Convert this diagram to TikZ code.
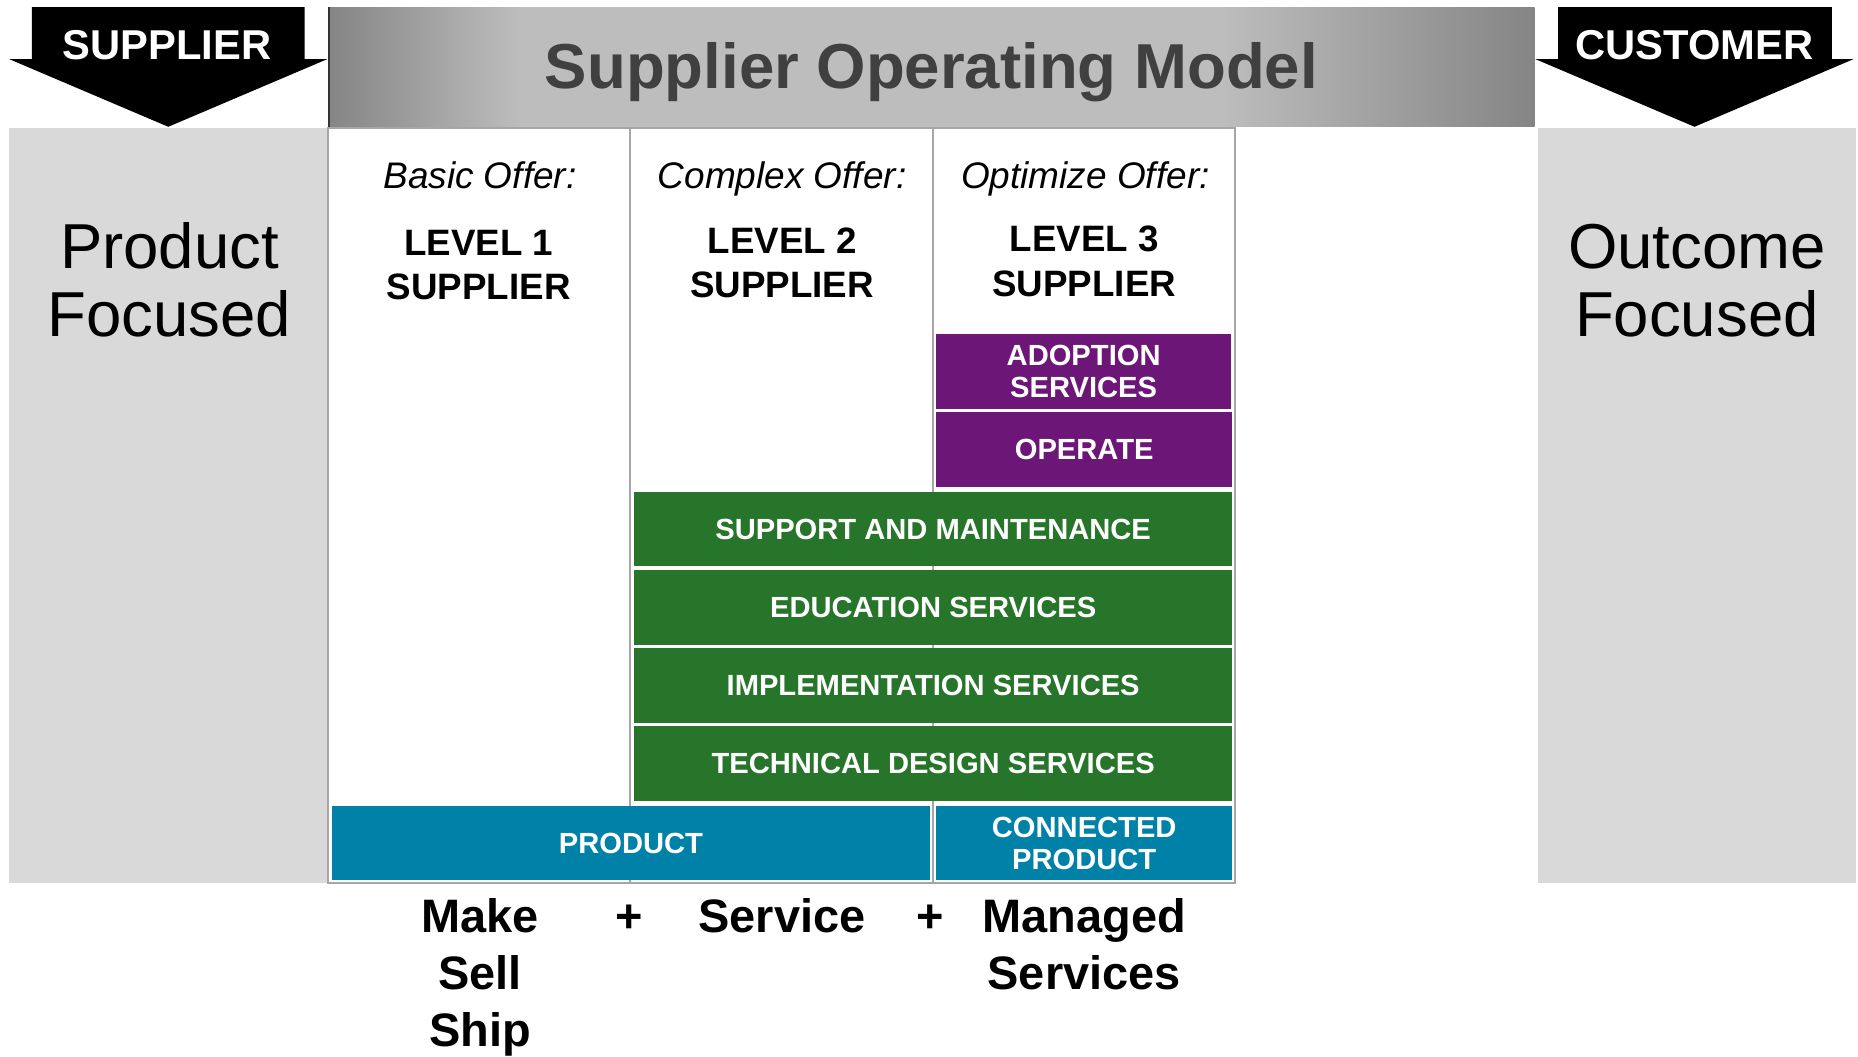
\documentclass[tikz,border=0pt]{standalone}
\usepackage{fontspec}
\setmainfont{Liberation Sans}
\definecolor{panel}{HTML}{D9D9D9}
\definecolor{purp}{HTML}{6C1677}
\definecolor{grn}{HTML}{26752A}
\definecolor{blu}{HTML}{0081A8}
\definecolor{titlec}{HTML}{404040}
\definecolor{rulec}{HTML}{A6A6A6}
\definecolor{hdark}{HTML}{858585}
\definecolor{hlight}{HTML}{BDBDBD}
\pgfdeclarehorizontalshading{hdrshade}{100bp}{color(0bp)=(hdark); color(25bp)=(hdark); color(33bp)=(hlight); color(62bp)=(hlight); color(75bp)=(hdark); color(100bp)=(hdark)}
\begin{document}
\begin{tikzpicture}[x=0.5pt,y=-0.5pt,
  box/.style={inner sep=0pt, outer sep=0pt, text=white, align=center,
    font=\fontsize{12.3}{13.5}\selectfont\bfseries, minimum height=31.5pt},
  purpbox/.style={box, fill=purp},
  grnbox/.style={box, fill=grn, minimum width=252.5pt},
  blubox/.style={box, fill=blu},
  arrowlbl/.style={anchor=base, text=white, font=\fontsize{17.6}{20}\selectfont\bfseries},
  focus/.style={anchor=base, font=\fontsize{26.8}{28.5}\selectfont},
  offer/.style={anchor=base, font=\fontsize{15.6}{18}\selectfont\itshape},
  level/.style={anchor=base, font=\fontsize{15.5}{18.5}\selectfont\bfseries},
  bottom/.style={anchor=base, font=\fontsize{19.8}{24}\selectfont\bfseries},
  tbl/.style={draw=rulec, line width=0.8pt}
]
\useasboundingbox (0,0) rectangle (1568,892);

% side panels
\fill[panel] (8,108) rectangle (276,745);
\fill[panel] (1298,108) rectangle (1566,745);

% header
\shade[shading=hdrshade] (277,6) rectangle (1295,107);
\draw[black!80, line width=0.6pt] (277.5,6) -- (277.5,107);
\node[anchor=base, text=titlec, font=\fontsize{26.8}{32}\selectfont\bfseries] (title) at (786,75) {Supplier Operating Model};

% arrows
\fill[black] (27,6) -- (257,6) -- (257,50) -- (276,50) -- (142,107) -- (8,50) -- (27,50) -- cycle;
\node[arrowlbl] (suplbl) at (141,50) {SUPPLIER};
\fill[black] (1315,6) -- (1546,6) -- (1546,50) -- (1564,50) -- (1430,107) -- (1296,50) -- (1315,50) -- cycle;
\node[arrowlbl] (cuslbl) at (1430,50) {CUSTOMER};

% focus labels
\node[focus] (pf1) at (143,227) {Product};
\node[focus] (pf2) at (143,284) {Focused};
\node[focus] (of1) at (1432,227) {Outcome};
\node[focus] (of2) at (1432,284) {Focused};

% table
\draw[tbl] (277,108) rectangle (1042,745);
\draw[tbl] (532,108) -- (532,745);
\draw[tbl] (787,108) -- (787,745);

\node[offer] (o1) at (405,159) {Basic Offer:};
\node[offer] (o2) at (660,159) {Complex Offer:};
\node[offer] (o3) at (916,159) {Optimize Offer:};
\node[level] (l1a) at (404,216) {LEVEL 1};
\node[level] (l1b) at (404,253) {SUPPLIER};
\node[level] (l2a) at (660,214) {LEVEL 2};
\node[level] (l2b) at (660,251) {SUPPLIER};
\node[level] (l3a) at (915,212) {LEVEL 3};
\node[level] (l3b) at (915,250) {SUPPLIER};

% boxes
\node[purpbox, minimum width=124.5pt] (adopt) at (914.5,313.5) {ADOPTION\\SERVICES};
\node[purpbox, minimum width=125pt] (oper) at (915,379.5) {OPERATE};
\node[grnbox] (supp) at (787.5,446.5) {SUPPORT AND MAINTENANCE};
\node[grnbox] (edu) at (787.5,512.5) {EDUCATION SERVICES};
\node[grnbox] (impl) at (787.5,578.5) {IMPLEMENTATION SERVICES};
\node[grnbox] (tech) at (787.5,644.5) {TECHNICAL DESIGN SERVICES};
\node[blubox, minimum width=252.5pt] (prod) at (532.5,711.5) {PRODUCT};
\node[blubox, minimum width=125pt] (conn) at (915,711.5) {CONNECTED\\PRODUCT};

% bottom labels
\node[bottom] (make) at (405,787) {Make};
\node[bottom] (sell) at (405,835) {Sell};
\node[bottom] (ship) at (405,883) {Ship};
\node[bottom] (plus1) at (531,787) {+};
\node[bottom] (serv) at (660,787) {Service};
\node[bottom] (plus2) at (785,787) {+};
\node[bottom] (man1) at (915,787) {Managed};
\node[bottom] (man2) at (915,835) {Services};
\end{tikzpicture}
\end{document}
